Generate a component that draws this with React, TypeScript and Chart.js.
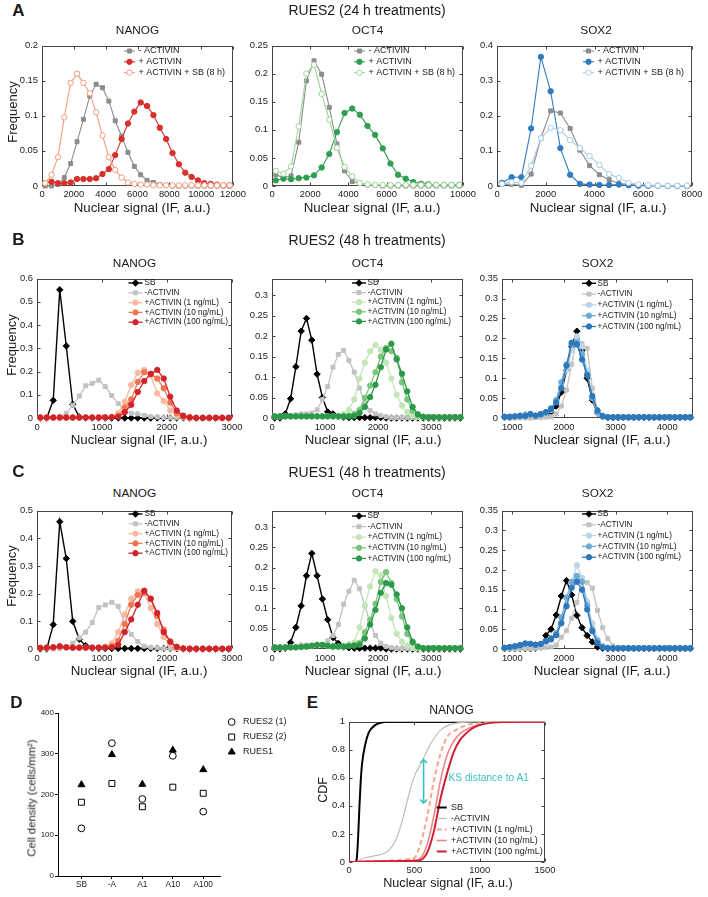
import React, { useEffect, useRef } from 'react';
import { Chart, registerables } from 'chart.js';

Chart.register(...registerables);

const FONT = '"Liberation Sans", Arial, Helvetica, sans-serif';
Chart.defaults.font.family = FONT;
const INK = '#1a1a1a';
const FRAME = '#444444';
const KS_COLOR = '#3dbfbf';
const NUC = 'Nuclear signal (IF, a.u.)';
const TICK_FS = 9.4;

// ---------------- bins / categories ----------------
const binsA = [200, 600, 1000, 1400, 1800, 2200, 2600, 3000, 3400, 3800, 4200, 4600, 5000, 5400, 5800, 6200, 6600, 7000, 7400, 7800, 8200, 8600, 9000, 9400, 9800, 10200, 10600, 11000, 11400, 11800];
const binsB = [50, 150, 250, 350, 450, 550, 650, 750, 850, 950, 1050, 1150, 1250, 1350, 1450, 1550, 1650, 1750, 1850, 1950, 2050, 2150, 2250, 2350, 2450, 2550, 2650, 2750, 2850, 2950, 3050, 3150, 3250, 3350, 3450, 3550];
const binsSox = [850, 950, 1050, 1150, 1250, 1350, 1450, 1550, 1650, 1750, 1850, 1950, 2050, 2150, 2250, 2350, 2450, 2550, 2650, 2750, 2850, 2950, 3050, 3150, 3250, 3350, 3450, 3550, 3650, 3750, 3850, 3950, 4050, 4150, 4250, 4350, 4450];

const labelsA = ['- ACTIVIN', '+ ACTIVIN', '+ ACTIVIN + SB (8 h)'];
const labelsBC = ['SB', '-ACTIVIN', '+ACTIVIN (1 ng/mL)', '+ACTIVIN (10 ng/mL)', '+ACTIVIN (100 ng/mL)'];

// ---------------- tick labels ----------------
const ticksANanogX = [0, 2000, 4000, 6000, 8000, 10000, 12000];
const ticksAOct4X = [0, 2000, 4000, 6000, 8000, 10000];
const ticksASox2X = [0, 2000, 4000, 6000, 8000];
const ticksANanogY = [0, 0.05, 0.1, 0.15, 0.2];
const ticksAOct4Y = [0, 0.05, 0.1, 0.15, 0.2, 0.25];
const ticksASox2Y = [0, 0.1, 0.2, 0.3, 0.4];
const ticksNanogX = [0, 1000, 2000, 3000];
const ticksOct4X = [0, 1000, 2000, 3000];
const ticksSox2X = [1000, 2000, 3000, 4000];
const ticksBNanogY = [0, 0.1, 0.2, 0.3, 0.4, 0.5, 0.6];
const ticksCNanogY = [0, 0.1, 0.2, 0.3, 0.4, 0.5];
const ticksOct4Y = [0, 0.05, 0.1, 0.15, 0.2, 0.25, 0.3];
const ticksSox2Y = [0, 0.05, 0.1, 0.15, 0.2, 0.25, 0.3, 0.35];
const ticksEX = [0, 500, 1000, 1500];
const ticksEY = [0, 0.2, 0.4, 0.6, 0.8, 1];
const ticksDY = [0, 100, 200, 300, 400];

// ---------------- panel A (RUES2, 24 h) ----------------
const aNanogNeg = [0, 0, 0.002, 0.012, 0.032, 0.063, 0.095, 0.128, 0.145, 0.14, 0.121, 0.093, 0.071, 0.048, 0.028, 0.016, 0.008, 0.005, 0.002, 0.001, 0, 0, 0, 0, 0, 0, 0, 0, 0, 0];
const aNanogPos = [0.004, 0.006, 0.004, 0.004, 0.005, 0.01, 0.01, 0.01, 0.011, 0.017, 0.024, 0.044, 0.067, 0.089, 0.106, 0.119, 0.114, 0.101, 0.083, 0.067, 0.047, 0.031, 0.019, 0.013, 0.008, 0.004, 0.003, 0.002, 0.001, 0.001];
const aNanogSb = [0.004, 0.016, 0.041, 0.098, 0.147, 0.16, 0.147, 0.132, 0.105, 0.072, 0.041, 0.023, 0.012, 0.005, 0.003, 0.002, 0.002, 0.001, 0.001, 0.001, 0.001, 0.001, 0.001, 0.001, 0.001, 0.001, 0.001, 0.001, 0.001, 0.001];

const aOct4Neg = [0.02, 0.015, 0.018, 0.078, 0.187, 0.223, 0.199, 0.14, 0.075, 0.027, 0.008, 0.005, 0.002, 0.001, 0, 0, 0, 0, 0, 0, 0, 0, 0, 0, 0];
const aOct4Pos = [0.01, 0.013, 0.012, 0.014, 0.015, 0.019, 0.033, 0.057, 0.096, 0.13, 0.138, 0.127, 0.107, 0.091, 0.067, 0.04, 0.02, 0.013, 0.007, 0.004, 0.003, 0.002, 0.002, 0.002, 0.002];
const aOct4Sb = [0.027, 0.022, 0.035, 0.106, 0.2, 0.216, 0.164, 0.118, 0.068, 0.034, 0.017, 0.005, 0.003, 0.002, 0.002, 0.002, 0.002, 0.002, 0.002, 0.002, 0.002, 0.002, 0.002, 0.002, 0.002];

const aSox2Neg = [0.005, 0.005, 0.002, 0.034, 0.136, 0.214, 0.208, 0.164, 0.102, 0.058, 0.032, 0.018, 0.007, 0.005, 0.002, 0.001, 0, 0, 0, 0];
const aSox2Pos = [0.009, 0.025, 0.025, 0.164, 0.368, 0.27, 0.108, 0.032, 0.006, 0.004, 0.003, 0.003, 0.004, 0.002, 0.001, 0.001, 0.001, 0, 0, 0];
const aSox2Sb = [0.006, 0.011, 0.009, 0.058, 0.136, 0.166, 0.159, 0.131, 0.108, 0.085, 0.06, 0.034, 0.023, 0.009, 0.005, 0.003, 0.001, 0.001, 0.001, 0.001];

// ---------------- panel B (RUES2, 48 h) ----------------
const bNanogSb = [0, 0, 0.076, 0.552, 0.31, 0.059, 0.005, 0, 0, 0, 0, 0, 0, 0, 0, 0, 0, 0, 0, 0, 0, 0, 0, 0, 0, 0, 0, 0, 0, 0];
const bNanogNeg = [0, 0, 0, 0.005, 0.02, 0.055, 0.094, 0.139, 0.149, 0.163, 0.135, 0.097, 0.062, 0.032, 0.02, 0.018, 0.011, 0.006, 0.004, 0.002, 0.001, 0.001, 0, 0, 0, 0, 0, 0, 0, 0];
const bNanog1 = [0.002, 0.002, 0.002, 0.002, 0.002, 0.002, 0.002, 0.002, 0.002, 0.002, 0.003, 0.005, 0.02, 0.07, 0.142, 0.195, 0.207, 0.183, 0.106, 0.073, 0.032, 0.011, 0.003, 0.001, 0, 0, 0, 0, 0, 0];
const bNanog10 = [0.002, 0.002, 0.002, 0.002, 0.002, 0.002, 0.002, 0.002, 0.002, 0.002, 0.002, 0.004, 0.01, 0.045, 0.08, 0.155, 0.197, 0.19, 0.17, 0.128, 0.066, 0.021, 0.005, 0.001, 0, 0, 0, 0, 0, 0];
const bNanog100 = [0.002, 0.002, 0.002, 0.002, 0.002, 0.002, 0.002, 0.002, 0.002, 0.002, 0.002, 0.003, 0.005, 0.025, 0.057, 0.112, 0.159, 0.19, 0.207, 0.17, 0.092, 0.032, 0.01, 0.003, 0.001, 0.001, 0.001, 0.001, 0.001, 0.001];

const bOct4Sb = [0, 0, 0.01, 0.047, 0.125, 0.212, 0.243, 0.19, 0.107, 0.05, 0.015, 0.01, 0.004, 0.002, 0.001, 0.001, 0.001, 0.001, 0.001, 0.001, 0.001, 0, 0, 0, 0, 0, 0, 0, 0, 0, 0, 0, 0, 0, 0, 0];
const bOct4Neg = [0.003, 0.003, 0.005, 0.006, 0.008, 0.01, 0.01, 0.012, 0.02, 0.045, 0.077, 0.124, 0.155, 0.165, 0.14, 0.112, 0.073, 0.035, 0.018, 0.01, 0.006, 0.003, 0.001, 0.001, 0.001, 0.001, 0.001, 0.001, 0.001, 0.001, 0.001, 0.001, 0.001, 0.001, 0.001, 0.001];
const bOct41 = [0.004, 0.004, 0.004, 0.004, 0.004, 0.004, 0.004, 0.004, 0.004, 0.004, 0.004, 0.004, 0.005, 0.01, 0.02, 0.045, 0.096, 0.135, 0.163, 0.178, 0.167, 0.135, 0.096, 0.057, 0.03, 0.014, 0.006, 0.003, 0.002, 0.002, 0.002, 0.002, 0.002, 0.002, 0.002, 0.002];
const bOct410 = [0.004, 0.004, 0.004, 0.004, 0.004, 0.004, 0.004, 0.004, 0.004, 0.004, 0.004, 0.004, 0.004, 0.004, 0.005, 0.01, 0.02, 0.049, 0.079, 0.112, 0.15, 0.171, 0.163, 0.147, 0.087, 0.045, 0.018, 0.006, 0.003, 0.002, 0.002, 0.002, 0.002, 0.002, 0.002, 0.002];
const bOct4100 = [0.004, 0.004, 0.004, 0.004, 0.004, 0.004, 0.004, 0.004, 0.004, 0.004, 0.004, 0.004, 0.004, 0.004, 0.004, 0.005, 0.012, 0.027, 0.051, 0.081, 0.124, 0.167, 0.181, 0.143, 0.108, 0.065, 0.027, 0.009, 0.003, 0.002, 0.002, 0.002, 0.002, 0.002, 0.002, 0.002];

const bSox2Sb = [0.002, 0.002, 0.003, 0.005, 0.008, 0.004, 0.003, 0.005, 0.008, 0.015, 0.03, 0.065, 0.12, 0.18, 0.218, 0.17, 0.1, 0.045, 0.012, 0.003, 0.001, 0.001, 0.001, 0.001, 0.001, 0.001, 0.001, 0.001, 0.001, 0.001, 0.001, 0.001, 0.001, 0.001, 0.001, 0.001, 0.001];
const bSox2Neg = [0, 0, 0, 0, 0, 0, 0.001, 0.001, 0.002, 0.003, 0.01, 0.03, 0.07, 0.135, 0.2, 0.187, 0.175, 0.075, 0.02, 0.005, 0.002, 0.001, 0.001, 0.001, 0.001, 0.001, 0.001, 0.001, 0.001, 0.001, 0.001, 0.001, 0.001, 0.001, 0.001, 0.001, 0.001];
const bSox21 = [0.003, 0.003, 0.004, 0.006, 0.008, 0.01, 0.006, 0.008, 0.012, 0.02, 0.04, 0.08, 0.12, 0.17, 0.205, 0.18, 0.12, 0.05, 0.012, 0.003, 0.002, 0.002, 0.002, 0.002, 0.002, 0.002, 0.002, 0.002, 0.002, 0.002, 0.002, 0.002, 0.002, 0.002, 0.002, 0.002, 0.002];
const bSox210 = [0.003, 0.003, 0.004, 0.006, 0.007, 0.008, 0.006, 0.008, 0.013, 0.025, 0.045, 0.09, 0.135, 0.185, 0.19, 0.16, 0.11, 0.05, 0.014, 0.004, 0.002, 0.002, 0.002, 0.002, 0.002, 0.002, 0.002, 0.002, 0.002, 0.002, 0.002, 0.002, 0.002, 0.002, 0.002, 0.002, 0.002];
const bSox2100 = [0.003, 0.003, 0.004, 0.005, 0.005, 0.01, 0.006, 0.01, 0.015, 0.022, 0.039, 0.075, 0.131, 0.189, 0.185, 0.147, 0.107, 0.055, 0.019, 0.005, 0.002, 0.002, 0.002, 0.002, 0.002, 0.002, 0.002, 0.002, 0.002, 0.002, 0.002, 0.002, 0.002, 0.002, 0.002, 0.002, 0.002];

// ---------------- panel C (RUES1, 48 h) ----------------
const cNanogSb = [0, 0, 0.088, 0.46, 0.327, 0.1, 0.035, 0.012, 0.003, 0.002, 0.002, 0.002, 0.002, 0.002, 0.002, 0.002, 0.002, 0.002, 0.002, 0.002, 0.002, 0.001, 0, 0, 0, 0, 0, 0, 0, 0];
const cNanogNeg = [0, 0, 0, 0.002, 0.007, 0.021, 0.04, 0.061, 0.096, 0.15, 0.159, 0.169, 0.154, 0.09, 0.052, 0.027, 0.01, 0.006, 0.004, 0.002, 0.001, 0.001, 0, 0, 0, 0, 0, 0, 0, 0];
const cNanog1 = [0.004, 0.005, 0.006, 0.008, 0.006, 0.005, 0.005, 0.005, 0.005, 0.005, 0.008, 0.02, 0.061, 0.125, 0.182, 0.208, 0.2, 0.148, 0.09, 0.044, 0.015, 0.004, 0.001, 0.001, 0.001, 0.001, 0.001, 0.001, 0.001, 0.001];
const cNanog10 = [0.004, 0.005, 0.006, 0.008, 0.006, 0.005, 0.005, 0.005, 0.005, 0.005, 0.006, 0.01, 0.03, 0.09, 0.16, 0.195, 0.205, 0.18, 0.12, 0.07, 0.025, 0.006, 0.002, 0.001, 0.001, 0.001, 0.001, 0.001, 0.001, 0.001];
const cNanog100 = [0.004, 0.005, 0.006, 0.01, 0.006, 0.005, 0.005, 0.005, 0.005, 0.005, 0.005, 0.006, 0.015, 0.061, 0.107, 0.16, 0.211, 0.182, 0.13, 0.061, 0.027, 0.008, 0.002, 0.001, 0.001, 0.001, 0.001, 0.001, 0.001, 0.001];

const cOct4Sb = [0, 0, 0.002, 0.016, 0.053, 0.106, 0.18, 0.235, 0.18, 0.123, 0.072, 0.028, 0.014, 0.005, 0.003, 0.002, 0.002, 0.002, 0.002, 0.002, 0.002, 0, 0, 0, 0, 0, 0, 0, 0, 0, 0, 0, 0, 0, 0, 0];
const cOct4Neg = [0.002, 0.002, 0.003, 0.004, 0.005, 0.01, 0.01, 0.008, 0.008, 0.01, 0.02, 0.033, 0.06, 0.11, 0.142, 0.169, 0.148, 0.107, 0.063, 0.033, 0.014, 0.006, 0.003, 0.001, 0.001, 0.001, 0.001, 0.001, 0.001, 0.001, 0.001, 0.001, 0.001, 0.001, 0.001, 0.001];
const cOct41 = [0.004, 0.004, 0.004, 0.004, 0.004, 0.005, 0.006, 0.008, 0.01, 0.01, 0.008, 0.006, 0.006, 0.008, 0.012, 0.016, 0.053, 0.107, 0.154, 0.191, 0.181, 0.13, 0.076, 0.037, 0.018, 0.008, 0.003, 0.002, 0.002, 0.002, 0.002, 0.002, 0.002, 0.002, 0.002, 0.002];
const cOct410 = [0.004, 0.004, 0.004, 0.004, 0.004, 0.005, 0.006, 0.008, 0.01, 0.01, 0.008, 0.006, 0.006, 0.006, 0.008, 0.01, 0.015, 0.041, 0.072, 0.111, 0.165, 0.189, 0.162, 0.123, 0.08, 0.037, 0.015, 0.005, 0.002, 0.002, 0.002, 0.002, 0.002, 0.002, 0.002, 0.002];
const cOct4100 = [0.004, 0.004, 0.004, 0.004, 0.004, 0.005, 0.006, 0.008, 0.01, 0.01, 0.008, 0.006, 0.006, 0.006, 0.007, 0.008, 0.01, 0.026, 0.06, 0.096, 0.138, 0.162, 0.158, 0.134, 0.1, 0.053, 0.018, 0.006, 0.002, 0.002, 0.002, 0.002, 0.002, 0.002, 0.002, 0.002];

const cSox2Sb = [0.001, 0.001, 0.001, 0.001, 0.001, 0.001, 0.002, 0.005, 0.034, 0.05, 0.086, 0.134, 0.173, 0.137, 0.085, 0.054, 0.034, 0.018, 0.005, 0.002, 0.001, 0.001, 0.001, 0.001, 0.001, 0.001, 0.001, 0.001, 0.001, 0.001, 0.001, 0.001, 0.001, 0.001, 0.001, 0.001, 0.001];
const cSox2Neg = [0, 0, 0, 0, 0.001, 0.001, 0.002, 0.003, 0.004, 0.005, 0.01, 0.03, 0.046, 0.078, 0.118, 0.17, 0.168, 0.154, 0.098, 0.054, 0.026, 0.008, 0.003, 0.001, 0.001, 0.001, 0.001, 0.001, 0.001, 0.001, 0.001, 0.001, 0.001, 0.001, 0.001, 0.001, 0.001];
const cSox21 = [0.003, 0.004, 0.006, 0.008, 0.012, 0.012, 0.01, 0.01, 0.015, 0.022, 0.035, 0.07, 0.115, 0.17, 0.212, 0.18, 0.12, 0.065, 0.025, 0.008, 0.003, 0.002, 0.002, 0.002, 0.002, 0.002, 0.002, 0.002, 0.002, 0.002, 0.002, 0.002, 0.002, 0.002, 0.002, 0.002, 0.002];
const cSox210 = [0.003, 0.004, 0.006, 0.008, 0.013, 0.013, 0.01, 0.012, 0.02, 0.028, 0.04, 0.08, 0.13, 0.17, 0.185, 0.17, 0.11, 0.05, 0.02, 0.006, 0.003, 0.002, 0.002, 0.002, 0.002, 0.002, 0.002, 0.002, 0.002, 0.002, 0.002, 0.002, 0.002, 0.002, 0.002, 0.002, 0.002];
const cSox2100 = [0.003, 0.005, 0.007, 0.01, 0.014, 0.013, 0.011, 0.013, 0.02, 0.025, 0.035, 0.065, 0.108, 0.155, 0.17, 0.15, 0.1, 0.045, 0.015, 0.004, 0.002, 0.002, 0.002, 0.002, 0.002, 0.002, 0.002, 0.002, 0.002, 0.002, 0.002, 0.002, 0.002, 0.002, 0.002, 0.002, 0.002];

// ---------------- panel D (cell density) ----------------
const dCats = ['SB', '-A', 'A1', 'A10', 'A100'];
const dRues2a = [117, 326, 189, 295, 158];
const dRues2b = [181, 227, 170, 218, 203];
const dRues1 = [224, 298, 225, 309, 261];

// ---------------- panel E (CDF) ----------------
const eX = [0, 25, 50, 60, 70, 80, 90, 100, 125, 150, 200, 250, 300, 350, 400, 450, 500, 550, 600, 650, 700, 750, 800, 850, 900, 950, 1000, 1100, 1200, 1300, 1400, 1500];
const eSb = [0, 0, 0, 0.03, 0.18, 0.4, 0.58, 0.7, 0.84, 0.92, 0.975, 0.993, 0.999, 1, 1, 1, 1, 1, 1, 1, 1, 1, 1, 1, 1, 1, 1, 1, 1, 1, 1, 1];
const eNeg = [0, 0, 0, 0.003, 0.008, 0.012, 0.016, 0.02, 0.03, 0.035, 0.045, 0.055, 0.08, 0.14, 0.27, 0.45, 0.61, 0.7, 0.8, 0.88, 0.94, 0.97, 0.985, 0.993, 0.997, 0.999, 1, 1, 1, 1, 1, 1];
const e1 = [0, 0, 0.001, 0.002, 0.002, 0.003, 0.003, 0.004, 0.005, 0.006, 0.007, 0.008, 0.01, 0.012, 0.015, 0.02, 0.03, 0.14, 0.33, 0.58, 0.77, 0.89, 0.93, 0.955, 0.975, 0.985, 0.99, 0.997, 1, 1, 1, 1];
const e10 = [0, 0, 0.001, 0.001, 0.002, 0.002, 0.002, 0.003, 0.003, 0.004, 0.005, 0.006, 0.007, 0.008, 0.009, 0.01, 0.012, 0.03, 0.13, 0.33, 0.58, 0.76, 0.86, 0.915, 0.945, 0.965, 0.98, 0.995, 1, 1, 1, 1];
const e100 = [0, 0, 0.001, 0.001, 0.001, 0.002, 0.002, 0.002, 0.003, 0.003, 0.004, 0.005, 0.006, 0.006, 0.007, 0.008, 0.008, 0.015, 0.07, 0.22, 0.45, 0.63, 0.78, 0.87, 0.92, 0.955, 0.975, 0.993, 0.998, 1, 1, 1];
const ksX = 571;
const ksLow = 0.42;
const ksHigh = 0.73;

// ---------------- styles ----------------
const stGrayA = { color: '#8c8c8c', shape: 'rect', r: 2.8, lw: 1.1 };
const stGrayBC = { color: '#c2c2c2', shape: 'rect', r: 2.8, lw: 1.3 };
const stSB = { color: '#000000', shape: 'rectRot', r: 3.2, lw: 1.4 };
const circ = (color: string, open = false, lw = 1.3) => ({ color, shape: 'circle', r: 2.7, lw, open });

// ---------------- drawing helpers / plugins ----------------
function drawMarker(ctx: any, style: string, x: number, y: number, r: number, fill: string, stroke: string, lw: number) {
  ctx.beginPath();
  if (style === 'rect') {
    const s = r * Math.SQRT1_2;
    ctx.rect(x - s, y - s, 2 * s, 2 * s);
  } else if (style === 'rectRot') {
    ctx.moveTo(x - r, y); ctx.lineTo(x, y - r); ctx.lineTo(x + r, y); ctx.lineTo(x, y + r); ctx.closePath();
  } else if (style === 'triangle') {
    for (let k = 0; k < 3; k++) {
      const a = -Math.PI / 2 + (k * 2 * Math.PI) / 3;
      const px = x + r * Math.cos(a), py = y + r * Math.sin(a);
      if (k === 0) ctx.moveTo(px, py); else ctx.lineTo(px, py);
    }
    ctx.closePath();
  } else {
    ctx.arc(x, y, r, 0, Math.PI * 2);
  }
  ctx.fillStyle = fill; ctx.fill();
  if (lw > 0) { ctx.lineWidth = lw; ctx.strokeStyle = stroke; ctx.stroke(); }
}

const boxPlugin = {
  id: 'mbox',
  beforeDatasetsDraw(chart: any) {
    const { ctx, chartArea: a, scales } = chart;
    const L = Math.round(a.left) + 0.5, R = Math.round(a.right) - 0.5;
    const T = Math.round(a.top) + 0.5, B = Math.round(a.bottom) - 0.5;
    ctx.save();
    ctx.strokeStyle = FRAME; ctx.lineWidth = 1;
    ctx.strokeRect(L, T, R - L, B - T);
    const tl = 3;
    ctx.beginPath();
    scales.x.ticks.forEach((t: any) => {
      const px = Math.round(scales.x.getPixelForValue(t.value)) + 0.5;
      ctx.moveTo(px, B); ctx.lineTo(px, B - tl); ctx.moveTo(px, T); ctx.lineTo(px, T + tl);
    });
    scales.y.ticks.forEach((t: any) => {
      const py = Math.round(scales.y.getPixelForValue(t.value)) + 0.5;
      ctx.moveTo(L, py); ctx.lineTo(L + tl, py); ctx.moveTo(R, py); ctx.lineTo(R - tl, py);
    });
    ctx.stroke();
    ctx.restore();
  },
};

function makeLegend(cfg: any) {
  return {
    id: 'mlegend',
    afterDraw(chart: any) {
      const ctx = chart.ctx;
      ctx.save();
      chart.data.datasets.forEach((ds: any, i: number) => {
        const y = cfg.y0 + i * cfg.dy - cfg.oy;
        const x0 = cfg.x0 - cfg.ox, x1 = cfg.x1 - cfg.ox;
        if (cfg.line) {
          ctx.beginPath();
          ctx.setLineDash(ds.borderDash || []);
          ctx.strokeStyle = ds.borderColor; ctx.lineWidth = ds.borderWidth;
          ctx.moveTo(x0, y); ctx.lineTo(x1, y); ctx.stroke();
          ctx.setLineDash([]);
        }
        if (ds.pointRadius > 0) {
          drawMarker(ctx, ds.pointStyle, (x0 + x1) / 2, y, ds.pointRadius, ds.pointBackgroundColor, ds.pointBorderColor, ds.pointBorderWidth);
        }
        ctx.fillStyle = INK;
        ctx.font = `${cfg.size}px ${FONT}`;
        ctx.textBaseline = 'middle'; ctx.textAlign = 'left';
        ctx.fillText(ds.label, cfg.tx - cfg.ox, y);
      });
      ctx.restore();
    },
  };
}

const ksPlugin = {
  id: 'ks',
  afterDatasetsDraw(chart: any) {
    const { ctx, scales } = chart;
    const px = scales.x.getPixelForValue(ksX);
    const p1 = scales.y.getPixelForValue(ksLow), p2 = scales.y.getPixelForValue(ksHigh);
    const hs = 3.5;
    ctx.save();
    ctx.strokeStyle = KS_COLOR; ctx.lineWidth = 1.6;
    ctx.beginPath();
    ctx.moveTo(px, p1); ctx.lineTo(px, p2);
    ctx.moveTo(px - hs, p2 + hs); ctx.lineTo(px, p2); ctx.lineTo(px + hs, p2 + hs);
    ctx.moveTo(px - hs, p1 - hs); ctx.lineTo(px, p1); ctx.lineTo(px + hs, p1 - hs);
    ctx.stroke();
    ctx.restore();
  },
};

function axisCfg(axis: string, min: number, max: number, ticks: number[], size: number, pad: number, fontSize = TICK_FS) {
  return {
    type: 'linear', min, max,
    afterBuildTicks: (s: any) => { s.ticks = ticks.map((v) => ({ value: v })); },
    afterFit: (s: any) => { if (axis === 'x') s.height = size; else s.width = size; },
    grid: { display: false, drawTicks: false },
    border: { display: false },
    ticks: {
      autoSkip: false, maxRotation: 0, minRotation: 0, padding: pad, color: INK,
      font: { size: fontSize, family: FONT },
      callback: (v: any) => String(v),
    },
  };
}

function mkSeries(label: string, bins: number[], vals: number[], st: any, idx: number) {
  return {
    label,
    data: vals.map((v, i) => ({ x: bins[i], y: v })),
    borderColor: st.color,
    backgroundColor: st.color,
    borderWidth: st.lw,
    pointStyle: st.shape,
    pointRadius: st.r,
    pointHoverRadius: st.r,
    pointBackgroundColor: st.open ? '#ffffff' : st.color,
    pointBorderColor: st.color,
    pointBorderWidth: 1,
    fill: false,
    tension: 0,
    clip: false,
    order: 20 - idx,
  };
}

function histSpec(p: any) {
  const padL = 40, padR = 20, padT = 4, padB = 17;
  const x = p.L - padL, y = p.T - padT;
  const w = p.R - p.L + padL + padR, h = p.B - p.T + padT + padB;
  const make = () => ({
    type: 'line',
    data: { datasets: p.series.map((s: any, i: number) => mkSeries(s[0], p.bins, s[1], s[2], i)) },
    options: {
      responsive: false, animation: false, events: [], devicePixelRatio: 1,
      layout: { padding: { left: 0, right: padR, top: padT, bottom: 0 } },
      plugins: { legend: { display: false }, tooltip: { enabled: false }, title: { display: false } },
      scales: {
        x: axisCfg('x', p.xMin, p.xMax, p.xTicks, padB, p.padX),
        y: axisCfg('y', 0, p.yMax, p.yTicks, padL, 4),
      },
    },
    plugins: [boxPlugin, makeLegend({ ...p.leg, ox: x, oy: y, line: true })],
  });
  return { x, y, w, h, make };
}

// ---------------- panel specs ----------------
const legA = (x0: number) => ({ x0, x1: x0 + 11, tx: x0 + 14.5, y0: 51, dy: 10.8, size: 9 });

const SPECS: any[] = [
  histSpec({
    L: 42, T: 40, R: 233, B: 186, xMin: 0, xMax: 12000, xTicks: ticksANanogX, yMax: 0.2, yTicks: ticksANanogY, padX: 3, bins: binsA,
    series: [[labelsA[0], aNanogNeg, stGrayA], [labelsA[1], aNanogPos, circ('#d6302c', false, 1.1)], [labelsA[2], aNanogSb, circ('#f39b7e', true, 1.1)]],
    leg: legA(124),
  }),
  histSpec({
    L: 272, T: 40, R: 463, B: 186, xMin: 0, xMax: 10000, xTicks: ticksAOct4X, yMax: 0.25, yTicks: ticksAOct4Y, padX: 3, bins: binsA,
    series: [[labelsA[0], aOct4Neg, stGrayA], [labelsA[1], aOct4Pos, circ('#2f9e4f', false, 1.1)], [labelsA[2], aOct4Sb, circ('#9bd595', true, 1.1)]],
    leg: legA(354),
  }),
  histSpec({
    L: 497, T: 40, R: 692, B: 186, xMin: 0, xMax: 8000, xTicks: ticksASox2X, yMax: 0.4, yTicks: ticksASox2Y, padX: 3, bins: binsA,
    series: [[labelsA[0], aSox2Neg, stGrayA], [labelsA[1], aSox2Pos, circ('#2e7bbf', false, 1.1)], [labelsA[2], aSox2Sb, circ('#a5cbe5', true, 1.1)]],
    leg: legA(583),
  }),
  histSpec({
    L: 37, T: 273, R: 232, B: 418, xMin: 0, xMax: 3000, xTicks: ticksNanogX, yMax: 0.6, yTicks: ticksBNanogY, padX: 4, bins: binsB,
    series: [[labelsBC[0], bNanogSb, stSB], [labelsBC[1], bNanogNeg, stGrayBC], [labelsBC[2], bNanog1, circ('#f8b89d')], [labelsBC[3], bNanog10, circ('#f37453')], [labelsBC[4], bNanog100, circ('#d1232b')]],
    leg: { x0: 128.5, x1: 142.5, tx: 144.5, y0: 283, dy: 9.8, size: 8.2 },
  }),
  histSpec({
    L: 272, T: 273, R: 463, B: 418, xMin: 0, xMax: 3600, xTicks: ticksOct4X, yMax: 0.34, yTicks: ticksOct4Y, padX: 4, bins: binsB,
    series: [[labelsBC[0], bOct4Sb, stSB], [labelsBC[1], bOct4Neg, stGrayBC], [labelsBC[2], bOct41, circ('#c3e6b8')], [labelsBC[3], bOct410, circ('#79c57a')], [labelsBC[4], bOct4100, circ('#2c994a')]],
    leg: { x0: 352, x1: 366, tx: 367.5, y0: 283, dy: 9.6, size: 8.2 },
  }),
  histSpec({
    L: 502, T: 273, R: 693, B: 418, xMin: 800, xMax: 4500, xTicks: ticksSox2X, yMax: 0.35, yTicks: ticksSox2Y, padX: 4, bins: binsSox,
    series: [[labelsBC[0], bSox2Sb, stSB], [labelsBC[1], bSox2Neg, stGrayBC], [labelsBC[2], bSox21, circ('#bad6ec')], [labelsBC[3], bSox210, circ('#6eaad6')], [labelsBC[4], bSox2100, circ('#2c78ba')]],
    leg: { x0: 582, x1: 596, tx: 597.5, y0: 283.3, dy: 10.8, size: 8.2 },
  }),
  histSpec({
    L: 37, T: 505, R: 232, B: 649, xMin: 0, xMax: 3000, xTicks: ticksNanogX, yMax: 0.5, yTicks: ticksCNanogY, padX: 4, bins: binsB,
    series: [[labelsBC[0], cNanogSb, stSB], [labelsBC[1], cNanogNeg, stGrayBC], [labelsBC[2], cNanog1, circ('#f8b89d')], [labelsBC[3], cNanog10, circ('#f37453')], [labelsBC[4], cNanog100, circ('#d1232b')]],
    leg: { x0: 128.5, x1: 142.5, tx: 144.5, y0: 514, dy: 9.8, size: 8.2 },
  }),
  histSpec({
    L: 272, T: 505, R: 463, B: 649, xMin: 0, xMax: 3600, xTicks: ticksOct4X, yMax: 0.34, yTicks: ticksOct4Y, padX: 4, bins: binsB,
    series: [[labelsBC[0], cOct4Sb, stSB], [labelsBC[1], cOct4Neg, stGrayBC], [labelsBC[2], cOct41, circ('#c3e6b8')], [labelsBC[3], cOct410, circ('#79c57a')], [labelsBC[4], cOct4100, circ('#2c994a')]],
    leg: { x0: 352, x1: 366, tx: 367.5, y0: 516, dy: 10.6, size: 8.2 },
  }),
  histSpec({
    L: 502, T: 505, R: 693, B: 649, xMin: 800, xMax: 4500, xTicks: ticksSox2X, yMax: 0.35, yTicks: ticksSox2Y, padX: 4, bins: binsSox,
    series: [[labelsBC[0], cSox2Sb, stSB], [labelsBC[1], cSox2Neg, stGrayBC], [labelsBC[2], cSox21, circ('#bad6ec')], [labelsBC[3], cSox210, circ('#6eaad6')], [labelsBC[4], cSox2100, circ('#2c78ba')]],
    leg: { x0: 582, x1: 596, tx: 597.5, y0: 514, dy: 10.8, size: 8.2 },
  }),
];

// Panel E
(function () {
  const L = 349, T = 716, R = 545, B = 862;
  const padL = 40, padR = 20, padT = 4, padB = 17;
  const x = L - padL, y = T - padT, w = R - L + padL + padR, h = B - T + padT + padB;
  const eSeries: any[] = [
    [labelsBC[0], eSb, '#000000', 2, []],
    [labelsBC[1], eNeg, '#bdbdbd', 1.2, []],
    [labelsBC[2], e1, '#f5a58c', 2, [5, 3]],
    [labelsBC[3], e10, '#ef8683', 1.6, []],
    [labelsBC[4], e100, '#cf1f35', 2, []],
  ];
  const make = () => ({
    type: 'line',
    data: {
      datasets: eSeries.map((s, i) => ({
        label: s[0],
        data: s[1].map((v: number, k: number) => ({ x: eX[k], y: v })),
        borderColor: s[2], borderWidth: s[3], borderDash: s[4],
        pointRadius: 0, pointHoverRadius: 0, fill: false,
        tension: 0.4, cubicInterpolationMode: 'monotone', order: 20 - i,
      })),
    },
    options: {
      responsive: false, animation: false, events: [], devicePixelRatio: 1,
      layout: { padding: { left: 0, right: padR, top: padT, bottom: 0 } },
      plugins: { legend: { display: false }, tooltip: { enabled: false } },
      scales: {
        x: axisCfg('x', 0, 1500, ticksEX, padB, 3),
        y: axisCfg('y', 0, 1, ticksEY, padL, 4),
      },
    },
    plugins: [boxPlugin, ksPlugin, makeLegend({ x0: 436.7, x1: 446.7, tx: 451, y0: 807.5, dy: 11, size: 9, ox: x, oy: y, line: true })],
  });
  SPECS.push({ x, y, w, h, make });
})();

// Panel D
(function () {
  const L = 58, T = 713, R = 220, B = 876;
  const padL = 46, padR = 86, padT = 12, padB = 21;
  const x = L - padL, y = T - padT, w = R - L + padL + padR, h = B - T + padT + padB;
  const dSeries: any[] = [
    ['RUES2 (1)', dRues2a, 'circle', 3.4, 'rgba(0,0,0,0)'],
    ['RUES2 (2)', dRues2b, 'rect', 4.2, 'rgba(0,0,0,0)'],
    ['RUES1', dRues1, 'triangle', 4, '#000000'],
  ];
  const axisD = (axis: string, min: number, max: number, ticks: number[], size: number, fmt: any, fs: number) => ({
    type: 'linear', min, max,
    afterBuildTicks: (s: any) => { s.ticks = ticks.map((v) => ({ value: v })); },
    afterFit: (s: any) => { if (axis === 'x') s.height = size; else s.width = size; },
    grid: { display: true, drawOnChartArea: false, drawTicks: true, tickLength: 3, color: '#000', lineWidth: 1 },
    border: { display: true, color: '#000', width: 1 },
    ticks: { autoSkip: false, maxRotation: 0, minRotation: 0, padding: 1, color: INK, font: { size: fs, family: FONT }, callback: fmt },
  });
  const make = () => ({
    type: 'scatter',
    data: {
      datasets: dSeries.map((s, i) => ({
        label: s[0],
        data: s[1].map((v: number, k: number) => ({ x: k, y: v })),
        pointStyle: s[2], pointRadius: s[3], pointHoverRadius: s[3],
        pointBackgroundColor: s[4], pointBorderColor: '#000', pointBorderWidth: 1,
        backgroundColor: s[4], borderColor: '#000', showLine: false, clip: false, order: 20 - i,
      })),
    },
    options: {
      responsive: false, animation: false, events: [], devicePixelRatio: 1,
      layout: { padding: { left: 0, right: padR, top: padT, bottom: 0 } },
      plugins: { legend: { display: false }, tooltip: { enabled: false } },
      scales: {
        x: axisD('x', -0.77, 4.55, dCats.map((_, i) => i), padB, (v: any) => dCats[v] ?? '', 8.3),
        y: axisD('y', 0, 400, ticksDY, padL, (v: any) => String(v), 8),
      },
    },
    plugins: [makeLegend({ x0: 231.7, x1: 231.7, tx: 243, y0: 722, dy: 15, size: 9, ox: x, oy: y, line: false })],
  });
  SPECS.push({ x, y, w, h, make });
})();

// ---------------- text layout ----------------
const TEXTS: any[] = [
  { s: 'A', x: 18.5, y: 10, f: 17, b: true },
  { s: 'RUES2 (24 h treatments)', x: 367, y: 10, f: 14 },
  { s: 'NANOG', x: 137.5, y: 30.5, f: 11.8 },
  { s: 'OCT4', x: 367.5, y: 30.5, f: 11.8 },
  { s: 'SOX2', x: 596, y: 30.5, f: 11.8 },
  { s: 'Frequency', x: 12, y: 112, f: 13, r: true },
  { s: NUC, x: 142, y: 207.5, f: 13.3 },
  { s: NUC, x: 372, y: 207.5, f: 13.3 },
  { s: NUC, x: 598, y: 207.5, f: 13.3 },
  { s: 'B', x: 18.5, y: 239, f: 17, b: true },
  { s: 'RUES2 (48 h treatments)', x: 367, y: 240, f: 14 },
  { s: 'NANOG', x: 134.5, y: 263.5, f: 11.8 },
  { s: 'OCT4', x: 367.5, y: 263.5, f: 11.8 },
  { s: 'SOX2', x: 597.5, y: 263.5, f: 11.8 },
  { s: 'Frequency', x: 11, y: 345, f: 13, r: true },
  { s: NUC, x: 139, y: 440, f: 13.3 },
  { s: NUC, x: 373, y: 440, f: 13.3 },
  { s: NUC, x: 602, y: 440, f: 13.3 },
  { s: 'C', x: 18.5, y: 471, f: 17, b: true },
  { s: 'RUES1 (48 h treatments)', x: 367, y: 472, f: 14 },
  { s: 'NANOG', x: 134.5, y: 493.5, f: 11.8 },
  { s: 'OCT4', x: 367.5, y: 493.5, f: 11.8 },
  { s: 'SOX2', x: 597.5, y: 493.5, f: 11.8 },
  { s: 'Frequency', x: 11, y: 576, f: 13, r: true },
  { s: NUC, x: 139, y: 671, f: 13.3 },
  { s: NUC, x: 373, y: 671, f: 13.3 },
  { s: NUC, x: 602, y: 671, f: 13.3 },
  { s: 'D', x: 16.5, y: 701.5, f: 17, b: true },
  { s: 'Cell density (cells/mm²)', x: 31.5, y: 798, f: 11.3, r: true },
  { s: 'E', x: 312.5, y: 701.5, f: 17, b: true },
  { s: 'NANOG', x: 451.5, y: 709.5, f: 12.2 },
  { s: 'CDF', x: 323, y: 790, f: 12.5, r: true },
  { s: NUC, x: 448, y: 882.5, f: 12.6 },
  { s: 'KS distance to A1', x: 448.5, y: 777.5, f: 10.2, left: true, c: KS_COLOR },
];

function ChartCanvas({ spec }: { spec: any }) {
  const ref = useRef<HTMLCanvasElement>(null);
  useEffect(() => {
    const chart = new Chart(ref.current as HTMLCanvasElement, spec.make());
    return () => chart.destroy();
  }, []);
  return (
    <canvas
      ref={ref}
      width={spec.w}
      height={spec.h}
      style={{ position: 'absolute', left: spec.x, top: spec.y, width: spec.w, height: spec.h }}
    />
  );
}

export default function App() {
  return (
    <div style={{ position: 'absolute', left: 0, top: 0, width: 708, height: 897, background: '#ffffff', overflow: 'hidden', fontFamily: FONT, color: INK }}>
      {SPECS.map((s, i) => <ChartCanvas key={i} spec={s} />)}
      {TEXTS.map((t, i) => (
        <div
          key={'t' + i}
          style={{
            position: 'absolute', left: t.x, top: t.y,
            transform: (t.left ? 'translate(0,-50%)' : 'translate(-50%,-50%)') + (t.r ? ' rotate(-90deg)' : ''),
            fontSize: t.f, fontWeight: t.b ? 'bold' : 'normal', lineHeight: 1, whiteSpace: 'nowrap',
            color: t.c || INK, fontFamily: FONT,
          }}
        >
          {t.s}
        </div>
      ))}
    </div>
  );
}
